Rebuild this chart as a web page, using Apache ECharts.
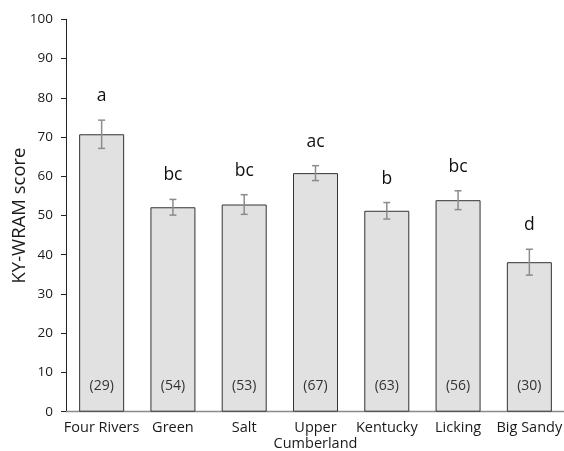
<!DOCTYPE html>
<html>
<head>
<meta charset="utf-8">
<script src="https://cdn.jsdelivr.net/npm/echarts@6/dist/echarts.min.js"></script>
<style>
  html, body { margin: 0; padding: 0; background: #fff; }
  #chart { width: 564px; height: 451px; }
</style>
</head>
<body>
<div id="chart"></div>
<script>
// Mean KY-WRAM score by basin, with standard error, group letters and sample size
const basins = ['Four Rivers', 'Green', 'Salt', 'Upper\nCumberland', 'Kentucky', 'Licking', 'Big Sandy'];
const meanScores = [70.7, 52.1, 52.8, 60.8, 51.2, 53.9, 38.1];
const stdErrors = [3.6, 2.0, 2.5, 1.9, 2.1, 2.4, 3.3];
const groupLetters = ['a', 'bc', 'bc', 'ac', 'b', 'bc', 'd'];
const sampleSizes = [29, 54, 53, 67, 63, 56, 30];
const yTicks = { min: 0, max: 100, step: 10 };

const FONT = '"Open Sans"';
const chart = echarts.init(document.getElementById('chart'), null, { renderer: 'canvas' });

const errorData = meanScores.map((m, i) => [i, m, stdErrors[i]]);

chart.setOption({
  animation: false,
  grid: { left: 66, top: 19.3, width: 499, bottom: 39.3, containLabel: false, outerBoundsMode: 'none' },
  xAxis: {
    type: 'category',
    data: basins,
    axisLine: { lineStyle: { color: '#8a8a8a', width: 1.3 } },
    axisTick: { show: false },
    axisLabel: { color: '#1a1a1a', fontFamily: FONT, fontSize: 14.5, margin: 8.5, lineHeight: 16, interval: 0 }
  },
  yAxis: {
    type: 'value',
    min: yTicks.min, max: yTicks.max, interval: yTicks.step,
    name: 'KY-WRAM score',
    nameLocation: 'middle',
    nameGap: 37,
    nameMoveOverlap: false,
    nameTextStyle: { color: '#1a1a1a', fontFamily: FONT, fontSize: 18.5 },
    axisLine: { show: true, lineStyle: { color: '#222', width: 1 } },
    axisTick: { show: true, length: 5, lineStyle: { color: '#222' } },
    splitLine: { show: false },
    axisLabel: { color: '#1a1a1a', fontFamily: FONT, fontSize: 13.5, margin: 13 }
  },
  series: [
    {
      type: 'bar',
      data: meanScores,
      barWidth: 45,
      itemStyle: { color: '#e1e1e1', borderColor: '#333', borderWidth: 1 },
      label: {
        show: true,
        position: 'insideBottom',
        distance: 19,
        formatter: p => '(' + sampleSizes[p.dataIndex] + ')',
        color: '#333', fontFamily: FONT, fontSize: 14
      },
      z: 2
    },
    {
      type: 'custom',
      data: errorData,
      z: 3,
      renderItem: (params, api) => {
        const i = api.value(0), m = api.value(1), e = api.value(2);
        const top = api.coord([i, m + e]);
        const bot = api.coord([i, m - e]);
        const x = top[0], cap = 3.5;
        const ls = { stroke: '#8c8c8c', lineWidth: 1.5 };
        return {
          type: 'group',
          children: [
            { type: 'line', shape: { x1: x, y1: top[1], x2: x, y2: bot[1] }, style: ls },
            { type: 'line', shape: { x1: x - cap, y1: top[1], x2: x + cap, y2: top[1] }, style: ls },
            { type: 'line', shape: { x1: x - cap, y1: bot[1], x2: x + cap, y2: bot[1] }, style: ls },
            {
              type: 'text',
              style: {
                text: groupLetters[params.dataIndex],
                x: x, y: top[1] - 24,
                align: 'center', verticalAlign: 'middle',
                fill: '#111', font: '17.5px ' + FONT
              }
            }
          ]
        };
      }
    }
  ]
});
</script>
</body>
</html>
